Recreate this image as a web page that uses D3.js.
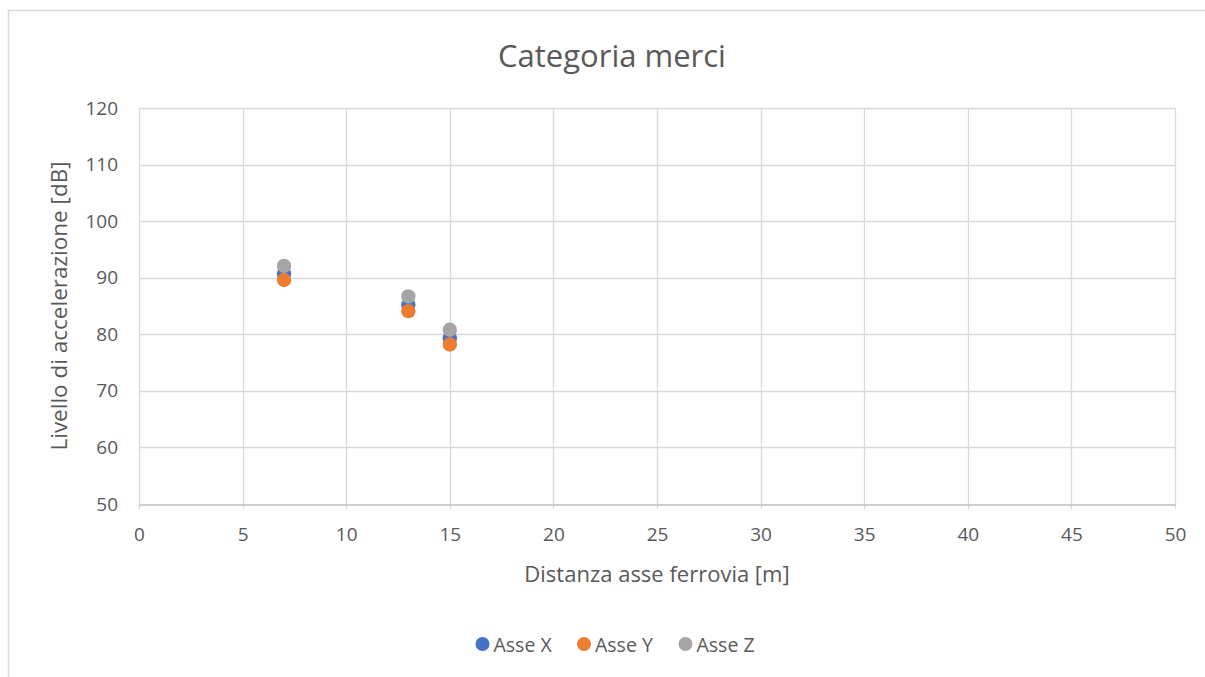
<!DOCTYPE html>
<html>
<head>
<meta charset="utf-8">
<script src="https://cdn.jsdelivr.net/npm/d3@7/dist/d3.min.js"></script>
<style>
  html, body { margin: 0; padding: 0; background: #fff; }
  svg { display: block; font-family: "Open Sans", "Noto Sans", sans-serif; }
</style>
</head>
<body>
<svg id="chart" width="1205" height="677"></svg>
<script>
// Vibration levels measured at distance from the railway axis (freight trains)
const distances = [7, 13, 15];
const asseX = [90.7, 85.2, 79.3];
const asseY = [89.6, 84.1, 78.2];
const asseZ = [92.1, 86.7, 80.8];

const seriesNames = ["Asse X", "Asse Y", "Asse Z"];
const seriesColors = ["#4472c4", "#ed7d31", "#a5a5a5"];
const xTicks = [0, 5, 10, 15, 20, 25, 30, 35, 40, 45, 50];
const yTicks = [50, 60, 70, 80, 90, 100, 110, 120];

const series = [asseX, asseY, asseZ].map((vals, i) => ({
  name: seriesNames[i],
  color: seriesColors[i],
  points: distances.map((d, j) => ({ x: d, y: vals[j] }))
}));

const svg = d3.select("#chart");
const W = 1205, H = 677;
const plot = { left: 139, right: 1175, top: 108, bottom: 504 };

// Chart frame
svg.append("rect")
  .attr("x", 8.5).attr("y", 10.5)
  .attr("width", W + 10).attr("height", H + 10)
  .attr("fill", "#fff").attr("stroke", "#d9d9d9").attr("stroke-width", 1.5);

const x = d3.scaleLinear().domain([0, 50]).range([plot.left, plot.right]);
const y = d3.scaleLinear().domain([50, 120]).range([plot.bottom, plot.top]);

// Gridlines
const grid = svg.append("g");
grid.selectAll("line.h").data(yTicks.filter(t => t !== 50)).join("line")
  .attr("x1", plot.left).attr("x2", plot.right)
  .attr("y1", d => Math.round(y(d)) + 0.5).attr("y2", d => Math.round(y(d)) + 0.5)
  .attr("stroke", "#d9d9d9").attr("stroke-width", 1.3);
grid.selectAll("line.v").data(xTicks).join("line")
  .attr("y1", plot.top).attr("y2", plot.bottom + 5)
  .attr("x1", d => Math.round(x(d)) + 0.5).attr("x2", d => Math.round(x(d)) + 0.5)
  .attr("stroke", "#d9d9d9").attr("stroke-width", 1.3);

// X axis
const xAxis = d3.axisBottom(x).tickValues(xTicks).tickSize(0).tickPadding(23);
const gx = svg.append("g").attr("transform", `translate(0,${plot.bottom + 0.5})`).call(xAxis);
gx.select(".domain").attr("stroke", "#bfbfbf").attr("stroke-width", 1.5);
gx.selectAll("text").attr("fill", "#595959").style("font-size", "19px")
  .style("font-family", '"Open Sans", sans-serif');

// Y axis
const yAxis = d3.axisLeft(y).tickValues(yTicks).tickSize(0).tickPadding(21);
const gy = svg.append("g").attr("transform", `translate(${plot.left},0)`).call(yAxis);
gy.select(".domain").remove();
gy.selectAll("text").attr("fill", "#595959").style("font-size", "19px")
  .style("font-family", '"Open Sans", sans-serif');

// Title
svg.append("text")
  .attr("x", 612).attr("y", 67)
  .attr("text-anchor", "middle")
  .attr("fill", "#595959")
  .style("font-size", "31px")
  .text("Categoria merci");

// Axis titles
svg.append("text")
  .attr("x", (plot.left + plot.right) / 2).attr("y", 582)
  .attr("text-anchor", "middle").attr("fill", "#595959")
  .style("font-size", "22px")
  .text("Distanza asse ferrovia [m]");

svg.append("text")
  .attr("transform", `translate(67,${(plot.top + plot.bottom) / 2}) rotate(-90)`)
  .attr("text-anchor", "middle").attr("fill", "#595959")
  .style("font-size", "22.5px")
  .text("Livello di accelerazione [dB]");

// Markers
series.forEach(s => {
  svg.append("g").selectAll("circle").data(s.points).join("circle")
    .attr("cx", d => x(d.x)).attr("cy", d => y(d.y))
    .attr("r", 7.2).attr("fill", s.color);
});

// Legend
const legendItems = [
  { name: seriesNames[0], color: seriesColors[0], cx: 482.5 },
  { name: seriesNames[1], color: seriesColors[1], cx: 584 },
  { name: seriesNames[2], color: seriesColors[2], cx: 685.5 }
];
const lg = svg.append("g");
legendItems.forEach(it => {
  lg.append("circle").attr("cx", it.cx).attr("cy", 644).attr("r", 7).attr("fill", it.color);
  lg.append("text").attr("x", it.cx + 11).attr("y", 651.5)
    .attr("fill", "#595959").style("font-size", "19.5px").text(it.name);
});
</script>
</body>
</html>
